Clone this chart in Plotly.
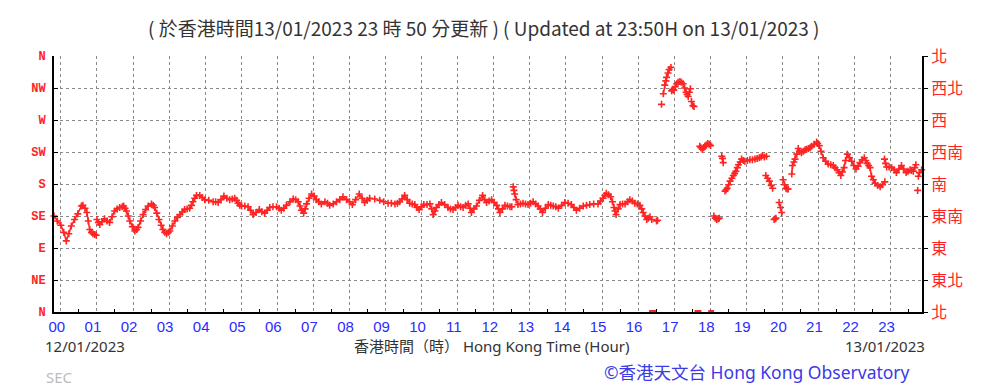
import plotly.graph_objects as go

# ---- data (hours relative to 00:00 on 12/01/2023, direction in degrees) ----
hours = [
 -0.19,-0.1,0.0,0.08,0.15,0.22,0.29,0.38,0.47,0.57,0.61,0.67,0.72,0.76,0.8,0.85,0.89,0.94,0.98,
 1.0,1.04,1.08,1.14,1.21,1.28,1.35,1.42,1.49,1.56,1.63,1.7,1.74,1.78,1.82,1.87,1.91,1.98,2.05,2.1,2.14,
 2.21,2.28,2.35,2.42,2.51,2.56,2.6,2.66,2.72,2.78,2.83,2.88,2.93,2.98,3.02,3.09,3.16,3.23,3.3,3.37,
 3.43,3.5,3.57,3.62,3.66,3.71,3.76,3.85,3.92,3.99,4.1,4.22,4.29,4.36,4.44,4.52,4.6,4.68,4.75,4.82,
 4.87,4.91,4.96,5.01,5.1,5.19,5.26,5.33,5.41,5.5,5.57,5.65,5.72,5.79,5.88,5.98,6.05,6.11,6.18,6.25,
 6.35,6.44,6.51,6.58,6.63,6.67,6.73,6.77,6.81,6.88,6.95,7.02,7.08,7.15,7.22,7.32,7.39,7.45,7.55,7.64,
 7.73,7.82,7.92,8.0,8.08,8.17,8.27,8.35,8.42,8.49,8.56,8.7,8.84,8.95,9.07,9.16,9.26,9.33,9.39,9.46,
 9.53,9.6,9.67,9.74,9.81,9.87,9.93,10.0,10.06,10.15,10.23,10.28,10.32,10.37,10.41,10.48,10.55,10.64,10.73,10.8,
 10.87,10.94,11.01,11.08,11.15,11.22,11.29,11.34,11.38,11.45,11.52,11.6,11.69,11.75,11.8,11.87,11.94,12.01,12.08,12.13,
 12.17,12.24,12.31,12.38,12.45,12.5,12.54,12.56,12.58,12.62,12.67,12.74,12.81,12.88,12.95,13.02,13.09,13.16,13.23,13.29,
 13.35,13.43,13.51,13.58,13.65,13.72,13.79,13.88,13.97,14.06,14.15,14.22,14.29,14.38,14.48,14.57,14.66,14.77,14.89,14.96,
 15.03,15.08,15.12,15.18,15.24,15.29,15.33,15.36,15.39,15.45,15.5,15.57,15.64,15.71,15.77,15.84,15.91,15.98,16.05,16.1,
 16.14,16.19,16.24,16.28,16.33,16.38,16.51,16.54,
 16.65,16.7,16.74,16.77,16.79,16.83,16.86,16.91,
 16.93,16.96,16.99,17.03,17.07,17.11,17.16,17.2,17.25,17.29,17.33,17.36,17.39,17.42,17.45,17.48,17.52,17.55,
 17.71,17.74,17.78,17.82,17.85,17.89,17.93,17.97,18.01,
 18.1,18.14,18.18,18.22,18.25,
 18.32,18.34,18.36,
 18.41,18.44,18.47,18.51,18.55,18.6,18.64,18.68,18.71,18.75,18.78,18.83,18.87,18.92,18.96,19.03,19.1,19.17,19.24,19.3,
 19.36,19.41,19.45,19.5,19.56,
 19.54,19.59,19.64,19.69,19.73,
 19.77,19.8,19.82,
 19.91,19.95,19.98,
 20.02,20.06,20.1,20.13,20.16,
 20.26,20.28,20.32,20.35,20.4,20.44,20.48,20.53,20.58,20.63,20.67,20.72,20.77,20.81,20.88,20.95,20.98,21.02,21.07,21.13,
 21.2,21.27,21.34,21.41,21.46,21.52,21.57,21.62,21.66,21.71,21.75,21.8,21.86,21.92,21.98,22.04,22.1,22.15,22.21,22.27,
 22.31,22.35,22.39,22.43,22.47,22.52,22.57,22.64,22.71,22.77,22.84,
 22.83,22.86,22.89,22.96,23.03,23.1,23.16,23.23,23.3,23.36,23.43,23.48,23.54,23.58,23.63,23.67,23.7,23.75,23.77,23.8,23.86,
]
direction = [
 135,128,122,112,100,110,121,130,138,149,150,146,140,128,116,112,110,109,108,
 130,126,123,127,131,128,126,134,142,145,147,148,149,146,142,135,128,120,114,116,119,
 128,137,144,149,152,150,147,139,130,122,116,112,110,112,114,121,128,133,137,141,
 144,145,146,150,155,160,164,164,161,158,157,155,155,154,158,163,160,158,159,160,
 157,153,150,149,149,148,143,137,140,144,141,139,143,147,148,148,146,143,146,150,
 155,159,158,155,149,143,139,145,152,160,166,163,158,155,152,155,153,150,152,155,
 158,162,158,155,151,158,166,160,154,157,160,159,157,155,153,153,152,153,155,159,
 164,158,153,152,151,147,144,148,151,151,152,145,137,142,147,151,154,151,147,145,
 144,147,150,148,147,150,152,146,140,145,149,157,164,158,154,156,158,154,150,145,
 140,145,150,149,148,148,176,171,166,158,151,152,153,152,151,153,155,152,149,145,
 140,146,151,150,149,148,146,150,154,153,151,147,143,146,149,150,151,152,152,156,
 160,164,167,165,162,155,147,142,137,145,151,152,152,155,158,156,153,152,150,145,
 140,135,130,132,134,130,128,129,
 292,307,319,325,330,336,341,344,
 311,313,312,317,321,323,324,323,321,315,309,306,303,309,314,296,290,289,
 233,231,229,231,233,235,237,236,234,
 135,132,130,131,132,
 219,216,210,
 170,172,174,179,184,188,192,195,198,203,207,211,215,213,212,213,214,214,215,216,
 217,218,220,218,219,
 192,188,184,178,174,
 130,131,132,
 154,147,140,
 186,179,174,173,173,
 194,206,211,215,222,230,226,224,226,228,229,230,231,233,236,239,237,234,226,217,
 212,208,207,206,203,200,196,192,197,203,213,222,217,212,206,201,205,210,214,217,
 213,209,206,203,191,186,181,178,176,179,183,
 215,209,204,204,203,200,196,201,206,201,196,198,200,199,198,203,207,171,191,196,200,
]
calm_hours = [16.36, 16.42, 16.47, 17.62, 17.66, 17.7, 18.0, 18.05]
calm_dir = [0, 0, 0, 0, 0, 0, 0, 0]

hour_ticks = list(range(24))
hour_labels = ["%02d" % h for h in hour_ticks]
dir_ticks = [0, 45, 90, 135, 180, 225, 270, 315, 360]
dir_labels_en = ["N", "NE", "E", "SE", "S", "SW", "W", "NW", "N"]
dir_labels_zh = ["北", "東北", "東", "東南", "南", "西南", "西", "西北", "北"]
half_hours = [h + 0.5 for h in range(24)]

RED = "#ff2424"
BLUE = "#2b2bff"

# break the connecting band where readings are far apart (data gaps / jumps)
seg_x, seg_y = [], []
for i, (hx, dy) in enumerate(zip(hours, direction)):
    if i > 0 and (abs(hx - hours[i - 1]) > 0.12 or abs(dy - direction[i - 1]) > 12 or hx < hours[i - 1]):
        seg_x.append(None)
        seg_y.append(None)
    seg_x.append(hx)
    seg_y.append(dy)

fig = go.Figure()
fig.add_trace(go.Scatter(x=seg_x, y=seg_y, mode="lines", line=dict(color=RED, width=1.6),
                         cliponaxis=False, showlegend=False, hoverinfo="skip", connectgaps=False))
fig.add_trace(go.Scatter(x=hours, y=direction, mode="markers",
                         marker=dict(symbol="cross-thin", size=5, color=RED, line=dict(width=1.6, color=RED)),
                         cliponaxis=False, showlegend=False, hoverinfo="x+y"))
fig.add_trace(go.Scatter(x=calm_hours, y=calm_dir, mode="markers",
                         marker=dict(symbol="square", size=4, color=RED, line=dict(width=0)),
                         cliponaxis=False, showlegend=False))
fig.add_trace(go.Scatter(x=[hours[0]], y=[direction[0]], yaxis="y2", mode="markers",
                         marker=dict(size=1, color="rgba(0,0,0,0)"), showlegend=False, hoverinfo="skip"))

L, R, T, B = 54, 61, 56, 76
W, H = 983, 388
pw, ph = W - L - R, H - T - B

def px(xp):
    return (xp - L) / pw

def py(yp):
    return (H - B - yp) / ph

fig.update_layout(
    width=W, height=H,
    margin=dict(l=L, r=R, t=T, b=B, pad=0),
    plot_bgcolor="white", paper_bgcolor="white",
    showlegend=False,
    xaxis=dict(
        range=[-0.19, 23.87], tickmode="array", tickvals=hour_ticks, ticktext=hour_labels,
        tickfont=dict(family="Liberation Sans, Arial", size=15, color=BLUE),
        showgrid=True, gridcolor="#8a8a8a", griddash="dot", gridwidth=1,
        showline=True, linecolor="black", linewidth=2, zeroline=False,
        ticks="", ticklabelshift=-4,
        minor=dict(tickvals=half_hours, ticks="inside", ticklen=3, tickcolor="black", showgrid=False),
    ),
    yaxis=dict(
        range=[0, 360], tickmode="array", tickvals=dir_ticks, ticktext=dir_labels_en,
        tickfont=dict(family="Liberation Mono, Courier New", size=12, color=RED, weight="bold"),
        showgrid=True, gridcolor="#8a8a8a", griddash="dot", gridwidth=1,
        showline=True, linecolor="black", linewidth=2, zeroline=False,
        ticks="inside", ticklen=4, tickcolor="black", ticklabelstandoff=4,
    ),
    yaxis2=dict(
        range=[0, 360], overlaying="y", side="right", tickmode="array",
        tickvals=dir_ticks, ticktext=dir_labels_zh,
        tickfont=dict(family="Noto Sans CJK TC", size=16, color=RED),
        showgrid=False, showline=True, linecolor="black", linewidth=2, zeroline=False,
        ticks="outside", ticklen=4, tickcolor="black",
    ),
)

ann = [
    dict(text="( 於香港時間13/01/2023 23 時 50 分更新 ) ( Updated at 23:50H on 13/01/2023 )",
         x=px(484), y=py(27), xanchor="center", yanchor="middle",
         font=dict(family="Liberation Sans Narrow, Noto Sans CJK TC", size=19, color="#333333")),
    dict(text="12/01/2023", x=px(43), y=py(346), xanchor="left", yanchor="middle",
         font=dict(family="Noto Sans", size=15, color="#333333")),
    dict(text="香港時間（時） Hong Kong Time (Hour)", x=px(492), y=py(346), xanchor="center", yanchor="middle",
         font=dict(family="Noto Sans, Noto Sans CJK TC", size=15, color="#333333")),
    dict(text="13/01/2023", x=px(927), y=py(346), xanchor="right", yanchor="middle",
         font=dict(family="Noto Sans", size=15, color="#333333")),
    dict(text="SEC", x=px(44), y=py(377), xanchor="left", yanchor="middle",
         font=dict(family="Noto Sans", size=15, color="#bbbbbb")),
    dict(text="©香港天文台 Hong Kong Observatory", x=px(912), y=py(372), xanchor="right", yanchor="middle",
         font=dict(family="Noto Sans, Noto Sans CJK TC", size=17.5, color="#3a3ae6")),
]
for a in ann:
    a.update(xref="paper", yref="paper", showarrow=False)
fig.update_layout(annotations=ann)

fig.write_html("out.html")
